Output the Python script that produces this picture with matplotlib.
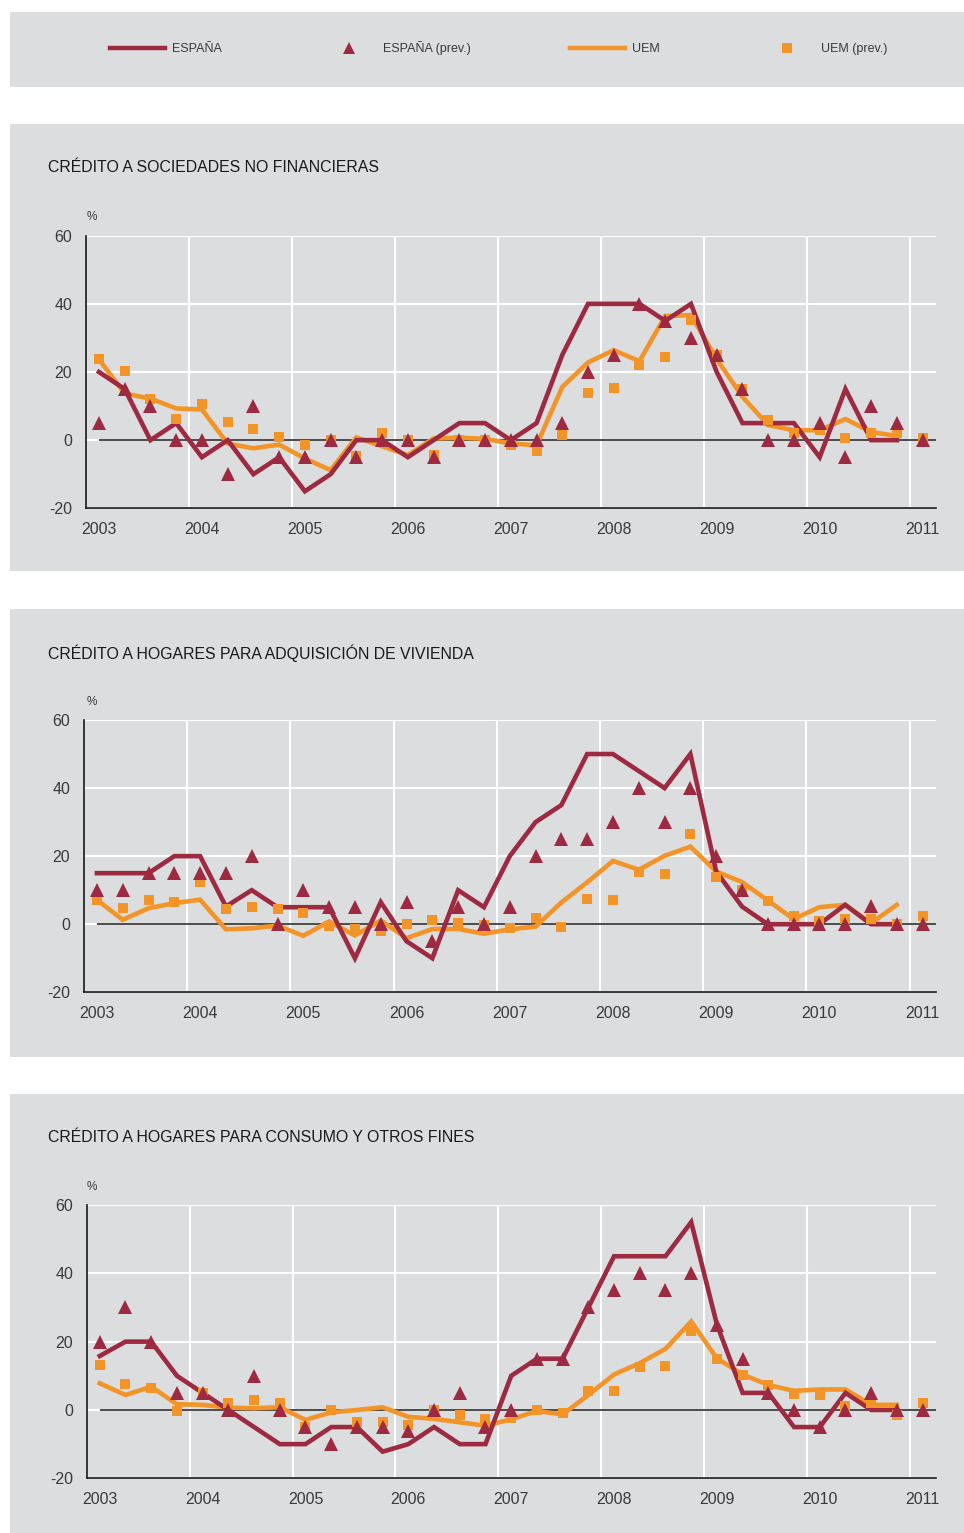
import numpy as np
import matplotlib
matplotlib.use("Agg")
import matplotlib.pyplot as plt
from matplotlib.patches import Rectangle
from matplotlib.lines import Line2D

plt.rcParams['font.family'] = ['Liberation Sans', 'DejaVu Sans']

# quarterly data, 2003Q1 .. 2011Q1 (lines stop at 2010Q4)
years = list(range(2003, 2012))
year_labels = [str(y) for y in years]

titles = ["CRÉDITO A SOCIEDADES NO FINANCIERAS",
          "CRÉDITO A HOGARES PARA ADQUISICIÓN DE VIVIENDA",
          "CRÉDITO A HOGARES PARA CONSUMO Y OTROS FINES"]

# panel 1: sociedades no financieras
esp_1 = [20, 15, 0, 5, -5, 0, -10, -5, -15, -10, 0, 0, -5, 0, 5, 5,
         0, 5, 25, 40, 40, 40, 35, 40, 20, 5, 5, 5, -5, 15, 0, 0]
esp_prev_1 = [5, 15, 10, 0, 0, -10, 10, -5, -5, 0, -5, 0, 0, -5, 0, 0,
              0, 0, 5, 20, 25, 40, 35, 30, 25, 15, 0, 0, 5, -5, 10, 5, 0]
uem_1 = [23.7, 13.7, 12.2, 9.3, 9.0, -1, -2.4, -1.3, -5.4, -8.8, 0.8, -1.8, -4.4, 0.5, 0.7, 0.4,
         -1, -1.5, 15.6, 22.8, 26.4, 23.2, 36.4, 36.7, 23.8, 12.7, 4.4, 2.9, 2.9, 6.2, 2.4, 1.2]
uem_prev_1 = [23.7, 20.3, 12, 6.2, 10.6, 5.4, 3.4, 0.8, -1.3, 0, -4.7, 2, 0, -4.4, 0, 0,
              -1.5, -3.1, 1.5, 13.9, 15.2, 22, 24.4, 35.4, 25, 14.9, 5.9, 2, 3, 0.7, 2.2, 2, 0.5]

# panel 2: vivienda
esp_2 = [15, 15, 15, 20, 20, 5.2, 10, 5, 5, 5, -10, 6.5, -5, -10, 10, 5,
         20, 30, 35, 50, 50, 45, 40, 50, 15.5, 5.2, 0, 0, 0, 5.7, 0, 0]
esp_prev_2 = [10, 10, 15, 15, 15, 15, 20, 0, 10, 5, 5, 0, 6.4, -5, 5, 0,
              5, 20, 25, 25, 30, 40, 30, 40, 20, 10, 0, 0, 0, 0, 5.4, 0, 0]
uem_2 = [7.2, 1.3, 4.7, 6.2, 7.2, -1.5, -1.2, -0.4, -3.4, 0.8, -3.3, 1.1, -4.1, -1.4, -1.4, -2.8,
         -1.5, -0.7, 6.4, 12.3, 18.6, 16, 20.1, 22.8, 15.5, 12.4, 7, 1.5, 5, 5.7, 0.3, 5.7]
uem_prev_2 = [7.2, 4.7, 7, 6.4, 12.3, 4.5, 5, 4.5, 3.4, -0.5, -1.5, -1.9, 0, 1.1, 0.5, -0.2,
              -1, 1.8, -0.7, 7.4, 7.2, 15.2, 14.8, 26.5, 13.8, 10, 6.7, 2.3, 1, 1.5, 1.5, 0, 2.5]

# panel 3: consumo y otros fines
esp_3 = [15.8, 20, 20, 10, 5, 0, -5, -10, -10, -5, -5, -12.2, -10, -5, -10, -10,
         10, 15, 15, 30, 45, 45, 45, 55, 25, 5, 5, -5, -5, 5, 0, 0]
esp_prev_3 = [20, 30, 20, 5, 5, 0, 10, 0, -5, -10, -5, -5, -6.3, 0, 5, -5,
              0, 15, 15, 30, 35, 40, 35, 40, 25, 15, 5, 0, -5, 0, 5, 0, 0]
uem_3 = [7.8, 4.4, 6.8, 1.7, 1.5, 0.7, 0.5, 0.8, -2.9, -0.7, 0, 0.8, -2, -2.6, -3.6, -4.6,
         -2.7, -0.3, -1.3, 4.4, 10.4, 13.7, 17.9, 25.9, 15.1, 10.4, 7.3, 5.6, 6, 6, 1.5, 1.5]
uem_prev_3 = [13.2, 7.6, 6.5, -0.3, 4.9, 2.1, 2.8, 1.9, -4.9, 0, -3.6, -3.4, -4.4, 0, -1.5, -2.6,
              -2.4, 0, -1, 5.7, 5.6, 12.7, 12.9, 23.1, 14.9, 10.2, 7.3, 4.6, 4.4, 1.3, 2, -1.5, 2.1]

panels = [(esp_1, esp_prev_1, uem_1, uem_prev_1),
          (esp_2, esp_prev_2, uem_2, uem_prev_2),
          (esp_3, esp_prev_3, uem_3, uem_prev_3)]

RED = "#9d2a40"
ORANGE = "#f29428"
BG = "#dcdddf"
TXT = "#3a3a3a"

W, H = 964, 1533
fig = plt.figure(figsize=(W / 100, H / 100), dpi=100)
fig.patch.set_facecolor("white")


def fx(px):
    return px / W


def fy(py):
    return 1 - py / H


def box(top, bottom):
    fig.patches.append(Rectangle((fx(10), fy(bottom)), fx(W - 10), (bottom - top) / H,
                                 transform=fig.transFigure, facecolor=BG,
                                 edgecolor="none", zorder=-10))


box(12, 87)
box(124, 571)
box(609, 1057)
box(1094, 1533)

# axes top (y=60), axes bottom (y=-20), axes left, title y, % y
layout = [(235.7, 508.3, 86.1, 168, 217),
          (720.0, 992.3, 84.0, 653, 702),
          (1205.0, 1478.3, 86.9, 1138, 1187)]
x_right = 935.5

for (esp, esp_prev, uem, uem_prev), title, (ytop, ybot, xleft, ty, py) in zip(panels, titles, layout):
    ax = fig.add_axes([fx(xleft), fy(ybot), fx(x_right - xleft), (ybot - ytop) / H])
    ax.set_facecolor("none")
    n_prev = len(esp_prev)
    x_prev = 2003.125 + 0.25 * np.arange(n_prev)
    x_line = x_prev[:len(esp)]

    ax.set_xlim(2003, 2011.25)
    ax.set_ylim(-20, 60)

    ax.set_yticks([-20, 0, 20, 40, 60])
    ax.set_yticklabels(["-20", "0", "20", "40", "60"])
    ax.set_xticks([y + 0.125 for y in years])
    ax.set_xticklabels(year_labels)
    ax.set_xticks(years[1:], minor=True)
    ax.tick_params(which="both", length=0)
    ax.tick_params(axis="y", labelsize=11.5, colors=TXT, pad=10)
    ax.tick_params(axis="x", labelsize=11.5, colors=TXT, pad=10)
    ax.grid(True, axis="y", which="major", color="white", linewidth=1.5, zorder=1)
    ax.grid(True, axis="x", which="minor", color="white", linewidth=1.5, zorder=1)
    ax.set_axisbelow(True)
    for s in ["top", "right"]:
        ax.spines[s].set_visible(False)
    for s in ["left", "bottom"]:
        ax.spines[s].set_color("#1a1a1a")
        ax.spines[s].set_linewidth(1.2)
        ax.spines[s].set_zorder(5)
    ax.plot([2003.125, 2011.25], [0, 0], color="#1a1a1a", linewidth=1.1, zorder=2,
            solid_capstyle="butt")

    ax.plot(x_line, uem, color=ORANGE, linewidth=3.3, zorder=3, solid_joinstyle="miter")
    ax.plot(x_line, esp, color=RED, linewidth=3.3, zorder=4, solid_joinstyle="miter")
    ax.plot(x_prev, uem_prev, linestyle="none", marker="s", markersize=6.5,
            color=ORANGE, markeredgewidth=0, zorder=5)
    ax.plot(x_prev, esp_prev, linestyle="none", marker="^", markersize=9.5,
            color=RED, markeredgewidth=0, zorder=6)

    fig.text(fx(48), fy(ty), title, fontsize=11.4, color="#1a1a1a", va="center", ha="left")
    fig.text(fx(92), fy(py), "%", fontsize=8.5, color=TXT, va="center", ha="center")

handles = [Line2D([], [], color=RED, linewidth=3.2),
           Line2D([], [], color=RED, marker="^", linestyle="none", markersize=8, markeredgewidth=0),
           Line2D([], [], color=ORANGE, linewidth=3.2),
           Line2D([], [], color=ORANGE, marker="s", linestyle="none", markersize=6.5, markeredgewidth=0)]
labels = ["ESPAÑA", "ESPAÑA (prev.)", "UEM", "UEM (prev.)"]
leg = fig.legend(handles, labels, loc="center left", bbox_to_anchor=(fx(110), fy(48)),
                 ncol=4, frameon=False, fontsize=9, handlelength=4.4, handletextpad=0.55,
                 columnspacing=7.95, borderpad=0, borderaxespad=0, labelcolor=TXT)

fig.savefig("out.png", dpi=100, facecolor="white")
